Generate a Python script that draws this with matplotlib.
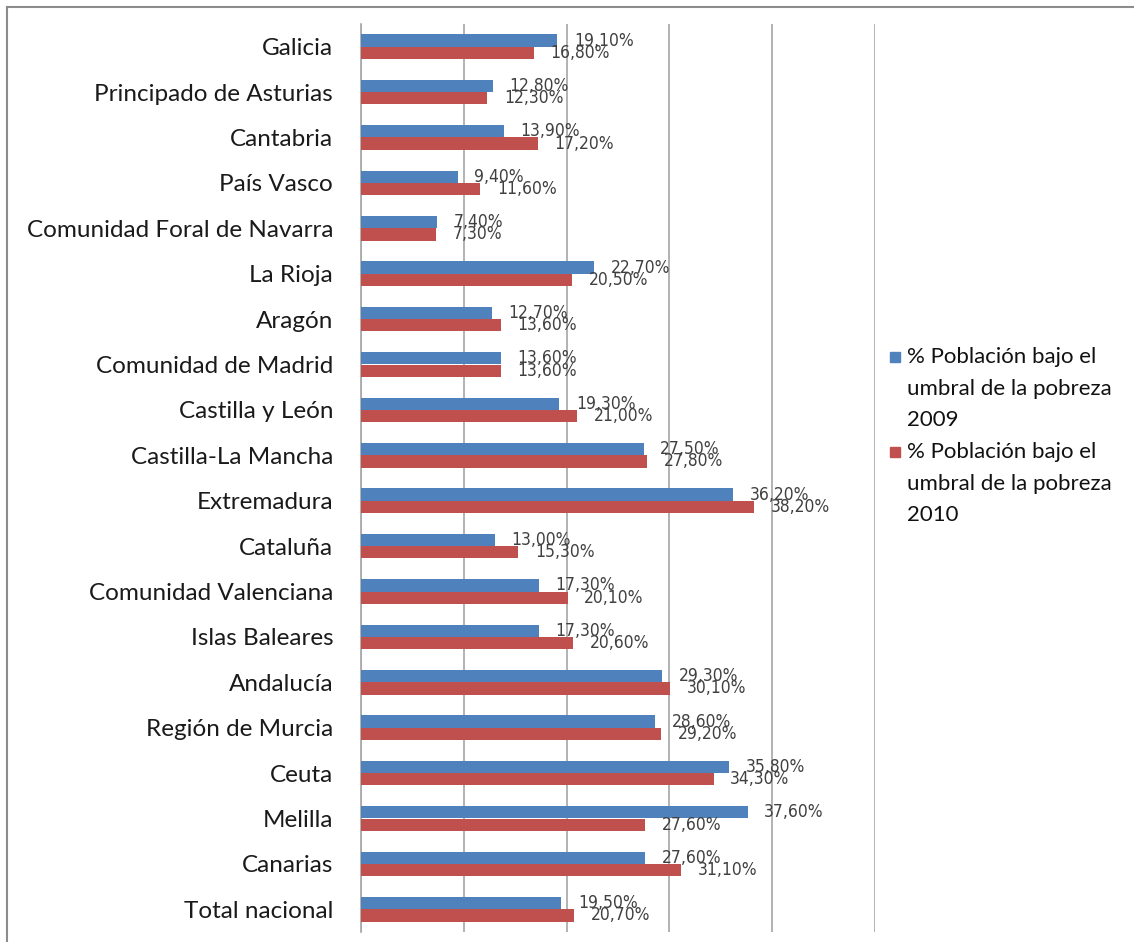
import matplotlib
matplotlib.use('Agg')
import matplotlib.pyplot as plt
from matplotlib.patches import Rectangle
from matplotlib.lines import Line2D
import numpy as np

categories = ["Galicia", "Principado de Asturias", "Cantabria", "País Vasco",
              "Comunidad Foral de Navarra", "La Rioja", "Aragón",
              "Comunidad de Madrid", "Castilla y León", "Castilla-La Mancha",
              "Extremadura", "Cataluña", "Comunidad Valenciana", "Islas Baleares",
              "Andalucía", "Región de Murcia", "Ceuta", "Melilla", "Canarias",
              "Total nacional"]
v2009 = [19.1, 12.8, 13.9, 9.4, 7.4, 22.7, 12.7, 13.6, 19.3, 27.5,
         36.2, 13.0, 17.3, 17.3, 29.3, 28.6, 35.8, 37.6, 27.6, 19.5]
v2010 = [16.8, 12.3, 17.2, 11.6, 7.3, 20.5, 13.6, 13.6, 21.0, 27.8,
         38.2, 15.3, 20.1, 20.6, 30.1, 29.2, 34.3, 27.6, 31.1, 20.7]
series_labels = ["% Población bajo el\numbral de la pobreza\n2009",
                 "% Población bajo el\numbral de la pobreza\n2010"]
colors = ["#4F81BD", "#C0504D"]

W, H = 1134, 942
fig = plt.figure(figsize=(W / 100, H / 100), dpi=100)
ax = fig.add_axes([361 / W, 1 - 932 / H, (875 - 361) / W, (932 - 24) / H])

n = len(categories)
y = np.arange(n)
h = 0.27
ax.barh(y - h / 2, v2009, height=h, color=colors[0], zorder=3)
ax.barh(y + h / 2, v2010, height=h, color=colors[1], zorder=3)

for vals, off in ((v2009, -h / 2), (v2010, h / 2)):
    for yi, v in zip(y, vals):
        ax.annotate(f"{v:.2f}%".replace('.', ','), xy=(v, yi + off),
                    xytext=(12, 0), textcoords='offset points',
                    va='center', ha='left', fontsize=12.5, color='#404040',
                    family='DejaVu Sans', stretch='condensed', zorder=4)

ax.set_xlim(0, 50)
ax.set_ylim(n - 0.5, -0.5)
ax.set_xticks(range(0, 51, 10))
ax.set_xticklabels([])
ax.tick_params(axis='x', length=0)
ax.grid(axis='x', color='#a6a6a6', lw=1.2, zorder=0)
ax.set_axisbelow(True)
for s in ('top', 'right', 'bottom'):
    ax.spines[s].set_visible(False)
ax.spines['left'].set_color('#a6a6a6')
ax.spines['left'].set_linewidth(1.2)
ax.set_yticks(y)
ax.set_yticklabels(categories, fontsize=17.5, family='Lato', color='#1a1a1a')
ax.tick_params(axis='y', length=0, pad=20)

# outer border (top and left visible)
fig.add_artist(Line2D([7 / W, 1.0], [1 - 7 / H, 1 - 7 / H], color='#8c8c8c', lw=1.5,
                      transform=fig.transFigure))
fig.add_artist(Line2D([7 / W, 7 / W], [0.0, 1 - 7 / H], color='#8c8c8c', lw=1.5,
                      transform=fig.transFigure))

# legend
line_step = 31.5
starts = [357, 452]
for lab, col, y0 in zip(series_labels, colors, starts):
    fig.add_artist(Rectangle((890 / W, 1 - (y0 + 5) / H), 10 / W, 10 / H,
                             color=col, transform=fig.transFigure))
    for k, line in enumerate(lab.split('\n')):
        fig.text(907 / W, 1 - (y0 + k * line_step) / H, line, fontsize=16,
                 family='Lato', color='#111111', va='center', ha='left')

fig.savefig('out.png', dpi=100)
